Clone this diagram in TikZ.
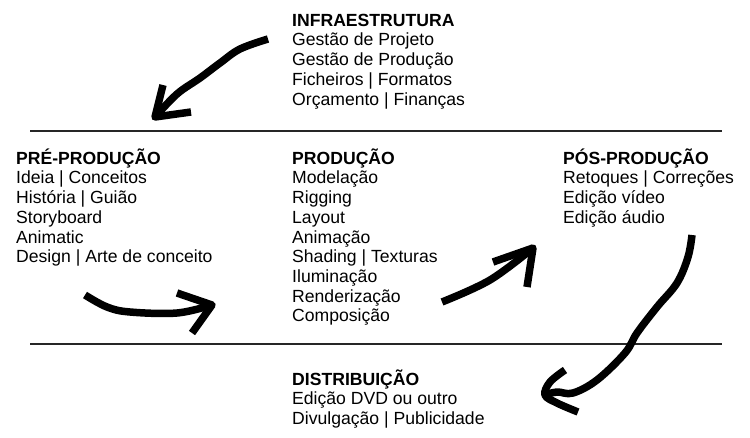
\documentclass[tikz,border=0pt]{standalone}
\usepackage{fontspec}
\setmainfont{Liberation Sans}
\begin{document}
\begin{tikzpicture}[x=1pt,y=-1pt,
  block/.style={anchor=north west,inner sep=0pt,align=left,
    font=\fontsize{17.6}{19.7}\selectfont},
  rule/.style={line width=1.2pt,black!85},
  brush/.style={line width=7.5pt,black,line cap=butt,line join=round}]
\useasboundingbox (0,0) rectangle (750,437);
\newcommand{\fs}{\rule{0pt}{17pt}}
\node[block] (infra) at (292,9) {\fs\textbf{INFRAESTRUTURA}\\Gestão de Projeto\\Gestão de Produção\\Ficheiros | Formatos\\Orçamento | Finanças};
\node[block] (pre) at (16,147) {\fs\textbf{PRÉ-PRODUÇÃO}\\Ideia | Conceitos\\História | Guião\\Storyboard\\Animatic\\Design | Arte de conceito};
\node[block] (prod) at (292,147) {\fs\textbf{PRODUÇÃO}\\Modelação\\Rigging\\Layout\\Animação\\Shading | Texturas\\Iluminação\\Renderização\\Composição};
\node[block] (pos) at (563,147) {\fs\textbf{PÓS-PRODUÇÃO}\\Retoques | Correções\\Edição vídeo\\Edição áudio};
\node[block] (dist) at (292,368) {\fs\textbf{DISTRIBUIÇÃO}\\Edição DVD ou outro\\Divulgação | Publicidade};
% separators
\coordinate (l1a) at (30,131); \coordinate (l1b) at (722,131);
\coordinate (l2a) at (30,344); \coordinate (l2b) at (722,344);
\draw[rule] (l1a) -- (l1b);
\draw[rule] (l2a) -- (l2b);
% hand-drawn arrows
\coordinate (t1) at (155,117);
\draw[brush] plot[smooth,tension=0.6] coordinates {(268,39) (240,49) (220,63) (200,78) (177,94) (155,117)};
\draw[brush] (163,85) -- (t1) -- (191,112);
\coordinate (t2) at (212,305);
\draw[brush] plot[smooth,tension=0.6] coordinates {(85,295) (107,307) (130,312) (177,313) (212,305)};
\draw[brush] (177,293) -- (t2) -- (192,333);
\coordinate (t3) at (533,248);
\draw[brush] plot[smooth,tension=0.6] coordinates {(442,302) (490,280) (533,248)};
\draw[brush] (493,262) -- (t3) -- (527,287);
\coordinate (t4) at (545,395);
\draw[brush] plot[smooth,tension=0.6] coordinates {(692,235) (688,257) (677,283) (657,307) (637,333) (625,353) (597,380) (573,393) (557,392) (545,395)};
\draw[brush] plot[smooth,tension=0.6] coordinates {(565,370) (550,382) (545,395) (557,403) (578,412)};
\end{tikzpicture}
\end{document}
